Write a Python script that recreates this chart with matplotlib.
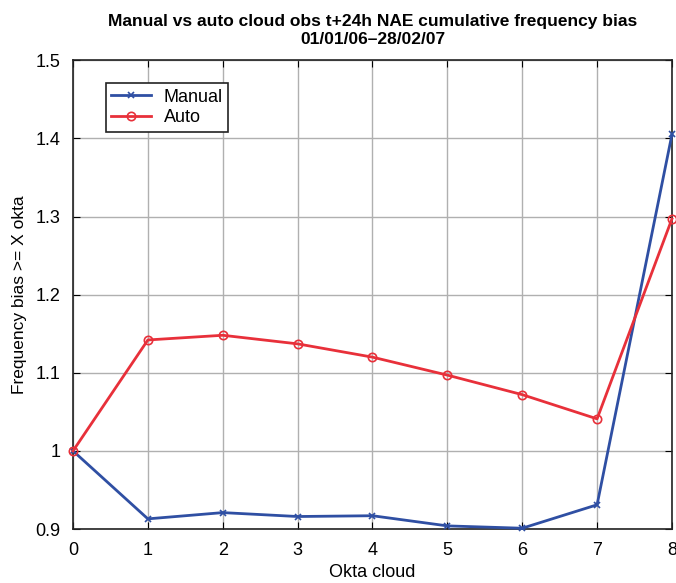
import matplotlib
matplotlib.use("Agg")
import matplotlib.pyplot as plt

plt.rcParams["font.family"] = ["Liberation Sans", "DejaVu Sans"]

okta = [0, 1, 2, 3, 4, 5, 6, 7, 8]
manual = [1.0, 0.913, 0.921, 0.916, 0.917, 0.904, 0.901, 0.931, 1.405]
auto = [1.0, 1.142, 1.148, 1.137, 1.120, 1.097, 1.072, 1.041, 1.297]

fig = plt.figure(figsize=(6.76, 5.83), dpi=100)
ax = fig.add_axes([0.108, 0.0926, 0.886, 0.804])

ax.plot(okta, manual, color="#2f4fa3", lw=2, marker="x", ms=5, mew=1.2,
        label="Manual", clip_on=False, zorder=3)
ax.plot(okta, auto, color="#e8303a", lw=2, marker="o", ms=6, mfc="none", mew=1.2,
        label="Auto", clip_on=False, zorder=3)

ax.set_xlim(0, 8)
ax.set_ylim(0.9, 1.5)
ax.set_xticks(okta)
ax.set_yticks([0.9, 1.0, 1.1, 1.2, 1.3, 1.4, 1.5])
ax.set_yticklabels(["0.9", "1", "1.1", "1.2", "1.3", "1.4", "1.5"])
ax.tick_params(direction="in", labelsize=13, length=5, top=True, right=True)
ax.tick_params(axis="x", pad=9)
ax.tick_params(axis="y", pad=9)
ax.grid(True, color="#b0b0b0", lw=1)
for s in ax.spines.values():
    s.set_linewidth(1.2)
    s.set_color("#222222")

ax.set_xlabel("Okta cloud", fontsize=13, labelpad=4)
ax.set_ylabel("Frequency bias >= X okta", fontsize=12.5, labelpad=6)
ax.set_title("Manual vs auto cloud obs t+24h NAE cumulative frequency bias\n01/01/06\u201328/02/07",
             fontsize=12.5, fontweight="bold", pad=12, linespacing=1.25)

leg = ax.legend(loc="upper left", bbox_to_anchor=(0.04, 0.97), fontsize=13,
                fancybox=False, framealpha=1, edgecolor="#222222",
                handlelength=2.2, handletextpad=0.7, borderpad=0.3, labelspacing=0.2)
leg.get_frame().set_linewidth(1.2)

fig.savefig("out.png", dpi=100)
